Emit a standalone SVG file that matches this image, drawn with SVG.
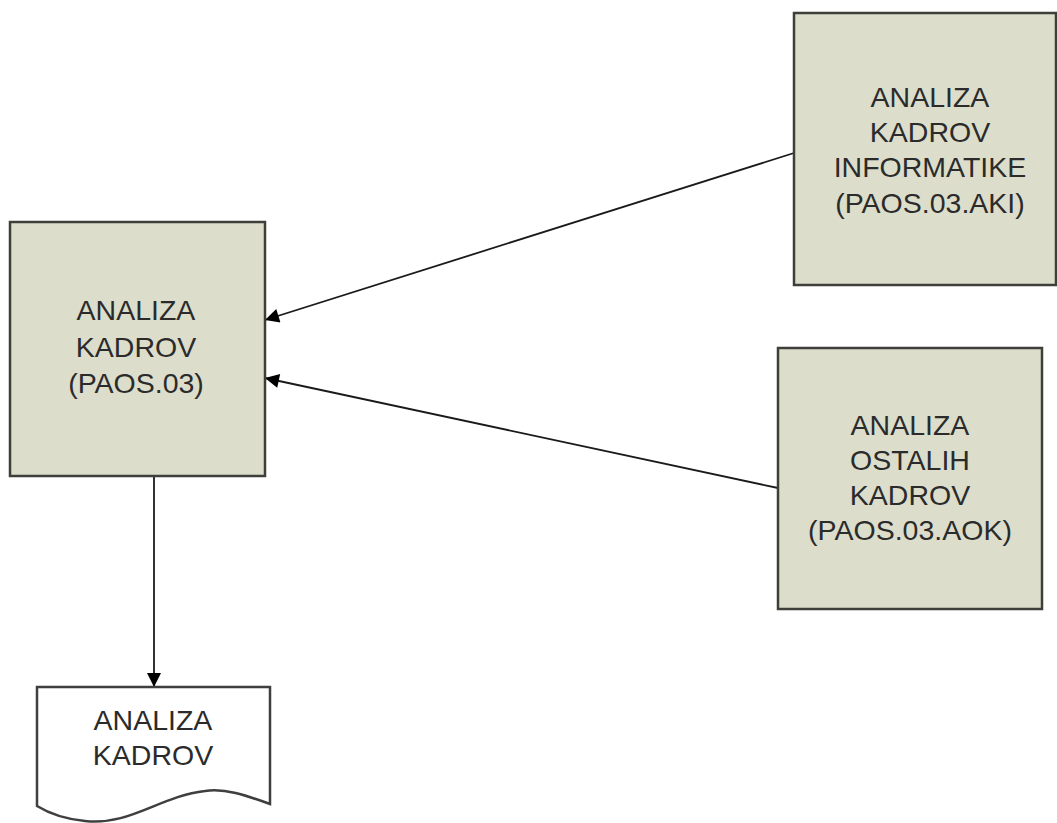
<svg xmlns="http://www.w3.org/2000/svg" width="1057" height="823" viewBox="0 0 1057 823">
<style>
.box{fill:#dcdecb;stroke:#3f3f3a;stroke-width:2.5}
.doc{fill:#ffffff;stroke:#3f3f3f;stroke-width:2.5}
.lbl{font-family:"Liberation Sans",Arial,sans-serif;font-size:28.5px;fill:#2b2b2b;text-anchor:middle}
.con{stroke:#1a1a1a;stroke-width:1.8;fill:none;marker-end:url(#ah)}
</style>
<defs>
<marker id="ah" viewBox="0 0 10 10" refX="10" refY="5" markerWidth="18" markerHeight="14" markerUnits="userSpaceOnUse" orient="auto">
<path d="M0,0 L10,5 L0,10 z" fill="#000"/>
</marker>
</defs>
<rect width="1057" height="823" fill="#ffffff"/>
<g id="connectors">
<line class="con" x1="794" y1="153" x2="265" y2="320"/>
<line class="con" x1="778" y1="488" x2="265" y2="378"/>
<line class="con" x1="154" y1="476" x2="154" y2="687"/>
</g>
<g id="node-main">
<rect class="box" x="10" y="222" width="255" height="254"/>
<text class="lbl" x="136" y="320">ANALIZA</text>
<text class="lbl" x="136" y="357">KADROV</text>
<text class="lbl" x="136" y="393">(PAOS.03)</text>
</g>
<g id="node-aki">
<rect class="box" x="794" y="13" width="262" height="272"/>
<text class="lbl" x="930" y="107">ANALIZA</text>
<text class="lbl" x="930" y="142">KADROV</text>
<text class="lbl" x="930" y="177">INFORMATIKE</text>
<text class="lbl" x="930" y="213">(PAOS.03.AKI)</text>
</g>
<g id="node-aok">
<rect class="box" x="778" y="348" width="264" height="261"/>
<text class="lbl" x="910" y="435">ANALIZA</text>
<text class="lbl" x="910" y="470">OSTALIH</text>
<text class="lbl" x="910" y="505">KADROV</text>
<text class="lbl" x="910" y="540">(PAOS.03.AOK)</text>
</g>
<g id="node-doc">
<path class="doc" d="M37,687 L270,687 L270,804 C245,795 225,788 205,791 C160,796 130,826 85,821 C65,819 50,814 37,806 Z"/>
<text class="lbl" x="153" y="730">ANALIZA</text>
<text class="lbl" x="153" y="765">KADROV</text>
</g>
</svg>
